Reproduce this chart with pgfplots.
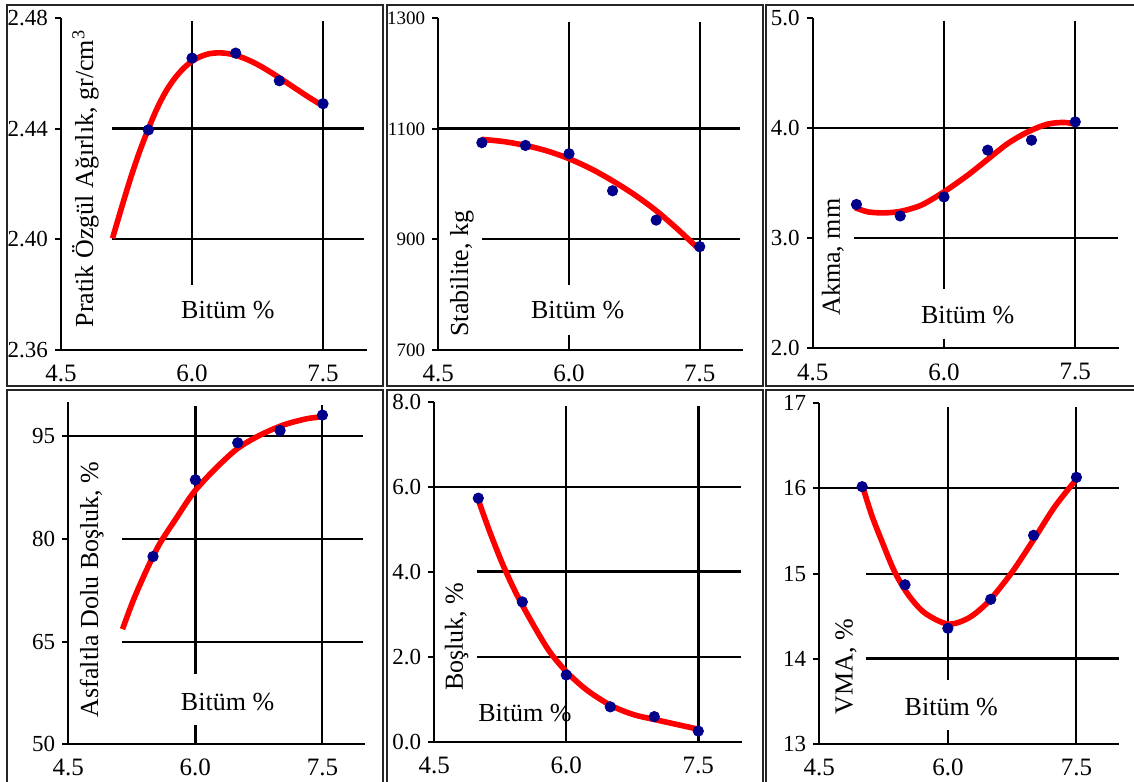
\documentclass[border=0pt]{standalone}
\usepackage{fontspec}
\setmainfont{Liberation Serif}
\usepackage{pgfplots}
\pgfplotsset{compat=1.18}
\definecolor{pt}{HTML}{00008B}
\tikzset{lab/.style={font=\fontsize{13}{15}\selectfont}}
\pgfplotsset{
  panel/.style={
    scale only axis, clip=false,
    axis x line=bottom, axis y line=left,
    axis line style={-, line width=1pt, black},
    xmin=4.5, xmax=8,
    xtick={4.5,6,7.5}, xticklabels={4.5,6.0,7.5},
    xtick style={draw=none},
    ytick style={line width=1pt, black},
    tick align=outside, major tick length=3pt,
    /pgf/number format/assume math mode=true,
    x tick label style={font=\fontsize{12.5}{14}\selectfont, yshift=-1pt},
    y tick label style={font=\fontsize{11.5}{13}\selectfont},
  },
  gl/.style={black, line width=1pt, forget plot},
  glt/.style={black, line width=1.5pt, forget plot},
  pts/.style={only marks, mark=*, mark size=2.6pt, color=pt},
  crv/.style={red, line width=2.8pt, smooth, no marks},
}
\begin{document}
\begin{tikzpicture}
\useasboundingbox (0pt,0pt) rectangle (567pt,390.5pt);
% panel borders
\foreach \xa/\xb in {3.5/191.5, 193.5/381.5, 383/568}{
  \draw[black!85, line width=0.6pt] (\xa pt,388pt) rectangle (\xb pt,197.5pt);
  \draw[black!85, line width=0.6pt] (\xa pt,195.5pt) rectangle (\xb pt,-2pt);
}
% ---------- Panel 1
\begin{axis}[panel, at={(30.5pt,215.5pt)}, anchor=south west,
  width=152.85pt, height=165.85pt,
  ymin=2.36, ymax=2.48, ytick={2.36,2.40,2.44,2.48},
  yticklabels={2.36,2.40,2.44,2.48}]
\addplot[glt] coordinates {(5.085,2.44) (7.97,2.44)};
\addplot[gl] coordinates {(5.085,2.40) (7.97,2.40)};
\addplot[gl] coordinates {(6,2.479) (6,2.3835)};
\addplot[gl] coordinates {(7.5,2.479) (7.5,2.36)};
\addplot[pts] coordinates {(5.5,2.4396) (6.0,2.4656) (6.5,2.4674) (7.0,2.4574) (7.5,2.4491)};
\addplot[crv] coordinates {(5.09,2.4004) (5.2,2.4122) (5.3,2.4225) (5.4,2.4318) (5.5,2.4400) (5.6,2.4474) (5.7,2.4535) (5.8,2.4582) (5.9,2.4618) (6.0,2.4645) (6.1,2.4662) (6.2,2.4672) (6.3,2.4675) (6.4,2.4673) (6.5,2.4666) (6.6,2.4655) (6.7,2.4641) (6.8,2.4624) (6.9,2.4605) (7.0,2.4585) (7.1,2.4564) (7.2,2.4543) (7.3,2.4522) (7.4,2.4502) (7.49,2.4485)};
\node[lab, rotate=90] at (axis cs:4.78,2.422) {Pratik Özgül Ağırlık, gr/cm\textsuperscript{3}};
\node[lab] at (axis cs:6.41,2.3745) {Bitüm \%};
\end{axis}
% ---------- Panel 2
\begin{axis}[panel, at={(219.15pt,215.5pt)}, anchor=south west,
  width=152.5pt, height=165.85pt,
  ymin=700, ymax=1300, ytick={700,900,1100,1300},
  yticklabels={700,900,1100,1300},
  y tick label style={font=\fontsize{9.5}{11}\selectfont}]
\addplot[glt] coordinates {(4.5,1100) (7.96,1100)};
\addplot[gl] coordinates {(5.0,900) (7.96,900)};
\addplot[gl] coordinates {(6,1294) (6,817)};
\addplot[gl] coordinates {(6,727) (6,700)};
\addplot[gl] coordinates {(7.5,1294) (7.5,700)};
\addplot[pts] coordinates {(5.0,1075) (5.5,1070) (6.0,1055) (6.5,988) (7.0,935) (7.5,887)};
\addplot[crv] coordinates {(5.0,1081) (5.25,1077) (5.5,1070) (5.75,1060) (6.0,1046) (6.25,1028) (6.5,1006) (6.75,981) (7.0,952) (7.25,918) (7.5,881)};
\node[lab, rotate=90] at (axis cs:4.77,838) {Stabilite, kg};
\node[lab] at (axis cs:6.10,772) {Bitüm \%};
\end{axis}
% ---------- Panel 3
\begin{axis}[panel, at={(406.35pt,216.25pt)}, anchor=south west,
  width=153.15pt, height=165pt,
  ymin=2, ymax=5, ytick={2,3,4,5},
  yticklabels={2.0,3.0,4.0,5.0}]
\addplot[gl] coordinates {(4.5,4) (7.99,4)};
\addplot[gl] coordinates {(4.97,3) (7.99,3)};
\addplot[gl] coordinates {(6,4.98) (6,2.545)};
\addplot[gl] coordinates {(6,2.09) (6,2)};
\addplot[gl] coordinates {(7.5,4.98) (7.5,2)};
\addplot[pts] coordinates {(5.0,3.309) (5.5,3.205) (6.0,3.378) (6.5,3.803) (7.0,3.894) (7.5,4.06)};
\addplot[crv] coordinates {(4.98,3.282) (5.13,3.242) (5.32,3.233) (5.51,3.248) (5.74,3.303) (6.0,3.424) (6.27,3.575) (6.5,3.72) (6.73,3.864) (6.96,3.97) (7.18,4.039) (7.37,4.055) (7.51,4.039)};
\node[lab, rotate=90] at (axis cs:4.73,2.83) {Akma, mm};
\node[lab] at (axis cs:6.27,2.30) {Bitüm \%};
\end{axis}
% ---------- Panel 4
\begin{axis}[panel, at={(34.15pt,18.35pt)}, anchor=south west,
  width=148.25pt, height=171.3pt,
  ymin=50, ymax=100, ytick={50,65,80,95},
  yticklabels={50,65,80,95}]
\addplot[gl] coordinates {(4.5,95) (7.98,95)};
\addplot[gl] coordinates {(5.13,80) (7.98,80)};
\addplot[gl] coordinates {(5.13,65) (7.98,65)};
\addplot[glt] coordinates {(6,99.4) (6,60.2)};
\addplot[glt] coordinates {(6,52.8) (6,50)};
\addplot[gl] coordinates {(7.5,99.5) (7.5,50)};
\addplot[pts] coordinates {(5.5,77.4) (6.0,88.6) (6.5,94.0) (7.0,95.8) (7.5,98.05)};
\addplot[crv] coordinates {(5.14,66.8) (5.27,71.1) (5.43,75.6) (5.58,79.3) (5.78,83.1) (5.976,86.7) (6.21,89.9) (6.49,93.1) (6.76,95.1) (7.04,96.6) (7.31,97.5) (7.5,97.8)};
\node[lab, rotate=90] at (axis cs:4.776,72.6) {Asfaltla Dolu Boşluk, \%};
\node[lab] at (axis cs:6.38,56.2) {Bitüm \%};
\end{axis}
% ---------- Panel 5
\begin{axis}[panel, at={(217.15pt,19.65pt)}, anchor=south west,
  width=154pt, height=170pt,
  ymin=0, ymax=8, ytick={0,2,4,6,8},
  yticklabels={0.0,2.0,4.0,6.0,8.0}]
\addplot[gl] coordinates {(4.5,6) (7.98,6)};
\addplot[glt] coordinates {(4.99,4) (7.98,4)};
\addplot[gl] coordinates {(4.99,2) (7.98,2)};
\addplot[gl] coordinates {(6,7.9) (6,0)};
\addplot[glt] coordinates {(7.5,7.9) (7.5,0)};
\addplot[pts] coordinates {(5.0,5.73) (5.5,3.29) (6.0,1.57) (6.5,0.82) (7.0,0.59) (7.5,0.25)};
\addplot[crv] coordinates {(5.0,5.69) (5.13,4.94) (5.28,4.16) (5.44,3.45) (5.625,2.75) (5.81,2.12) (6.0,1.65) (6.23,1.22) (6.5,0.86) (6.76,0.64) (7.03,0.51) (7.29,0.39) (7.51,0.29)};
\node[lab, rotate=90] at (axis cs:4.755,2.47) {Boşluk, \%};
\node[lab] at (axis cs:5.53,0.67) {Bitüm \%};
\end{axis}
% ---------- Panel 6
\begin{axis}[panel, at={(409.65pt,18.35pt)}, anchor=south west,
  width=150pt, height=170.6pt,
  ymin=13, ymax=17, ytick={13,14,15,16,17},
  yticklabels={13,14,15,16,17}]
\addplot[gl] coordinates {(4.5,16) (8,16)};
\addplot[gl] coordinates {(5.05,15) (8,15)};
\addplot[glt] coordinates {(5.05,14) (8,14)};
\addplot[gl] coordinates {(6,16.95) (6,13.75)};
\addplot[gl] coordinates {(6,13.17) (6,13)};
\addplot[gl] coordinates {(7.5,16.95) (7.5,13)};
\addplot[pts] coordinates {(5.0,16.02) (5.5,14.87) (6.0,14.36) (6.5,14.70) (7.0,15.45) (7.5,16.13)};
\addplot[crv] coordinates {(5.0,16.04) (5.11,15.69) (5.23,15.38) (5.38,15.02) (5.54,14.75) (5.73,14.54) (6.0,14.41) (6.24,14.48) (6.47,14.67) (6.75,15.02) (7.02,15.43) (7.25,15.79) (7.51,16.12)};
\node[lab, rotate=90] at (axis cs:4.81,13.91) {VMA, \%};
\node[lab] at (axis cs:6.04,13.44) {Bitüm \%};
\end{axis}
\end{tikzpicture}
\end{document}
